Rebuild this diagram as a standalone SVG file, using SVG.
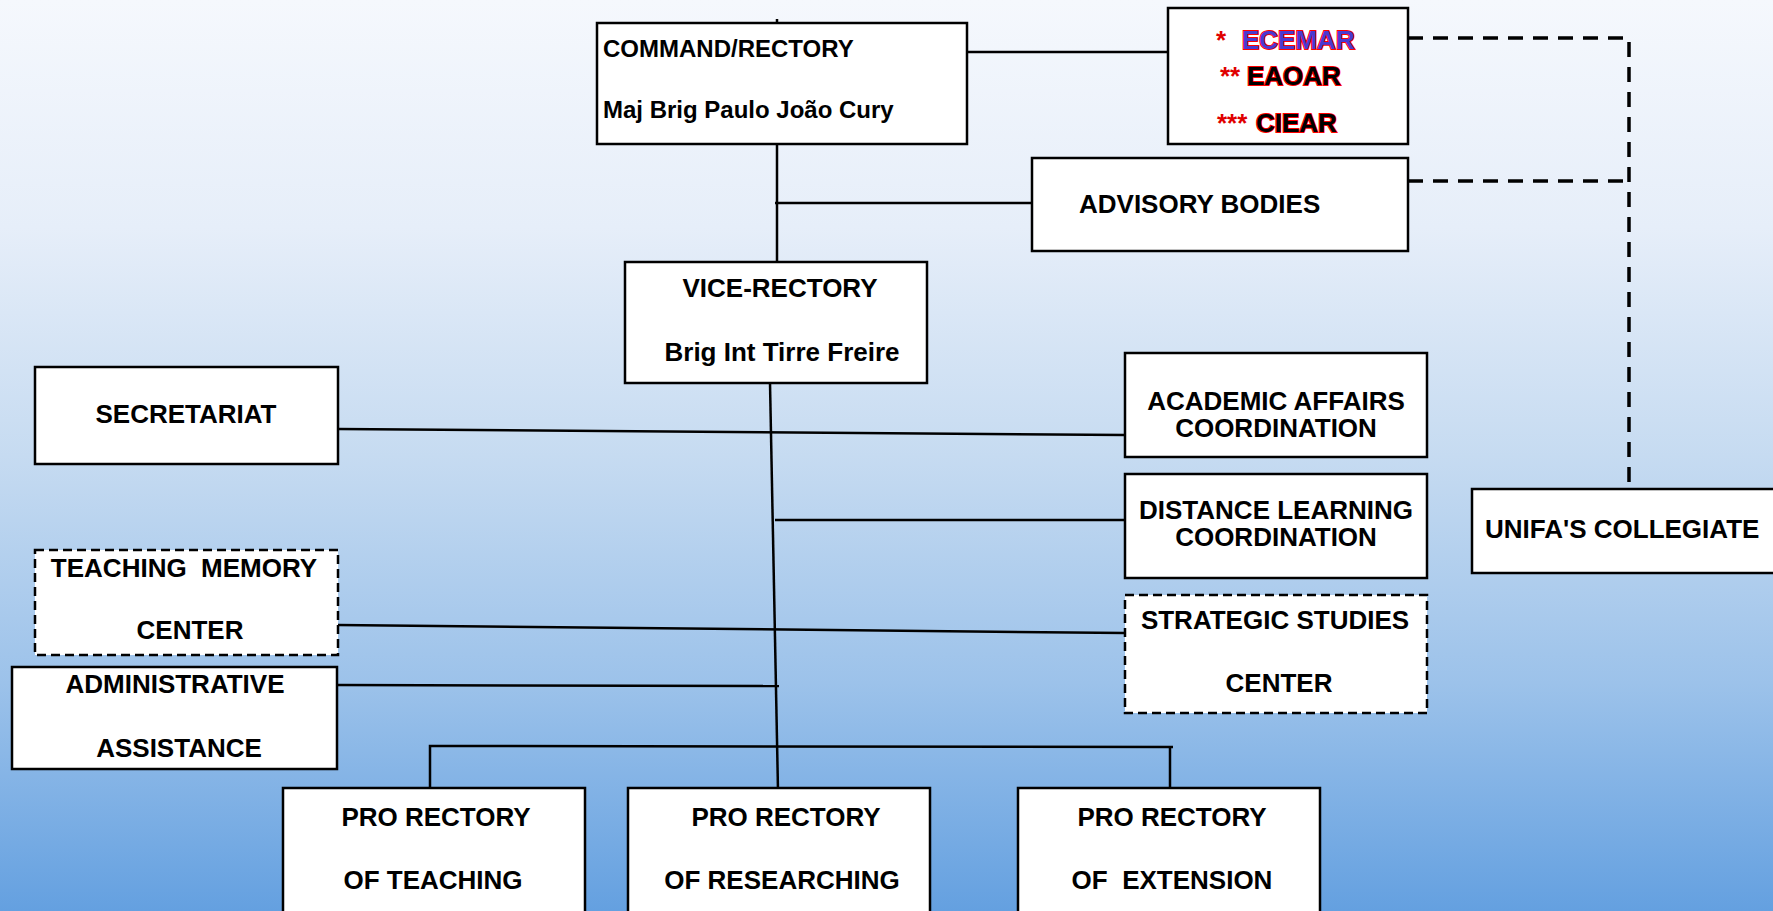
<svg xmlns="http://www.w3.org/2000/svg" width="1773" height="911" viewBox="0 0 1773 911">
<defs>
<linearGradient id="bg" x1="0" y1="0" x2="0" y2="1">
<stop offset="0" stop-color="#f5f8fd"/>
<stop offset="0.25" stop-color="#e6eef9"/>
<stop offset="0.5" stop-color="#c6dbf1"/>
<stop offset="0.75" stop-color="#9cc2ea"/>
<stop offset="1" stop-color="#64a0e0"/>
</linearGradient>
</defs>
<style>
.box{fill:#fff;stroke:#000;stroke-width:2.5}
.dbox{fill:#fff;stroke:#000;stroke-width:2.5;stroke-dasharray:9 5}
.ln{stroke:#000;stroke-width:2.5;fill:none}
.dl{stroke:#000;stroke-width:3.5;fill:none;stroke-dasharray:15 10}
text{font-family:"Liberation Sans",Arial,sans-serif;font-weight:bold;font-size:26px;fill:#000}
.c{text-anchor:middle}
.s24{font-size:24px}
.red{fill:#e00000}
.oe{fill:#4a3ad0;stroke:#ff0000;stroke-width:2;paint-order:stroke}
.ob{fill:#000;stroke:#ff0000;stroke-width:2;paint-order:stroke}
</style>
<rect width="1773" height="911" fill="url(#bg)"/>
<g id="connectors">
<line class="ln" x1="777" y1="19" x2="777" y2="23"/>
<line class="ln" x1="777" y1="144" x2="777" y2="262"/>
<line class="ln" x1="967" y1="52" x2="1168" y2="52"/>
<line class="ln" x1="775" y1="203" x2="1032" y2="203"/>
<line class="ln" x1="770" y1="383" x2="778" y2="791"/>
<line class="ln" x1="338" y1="429" x2="1125" y2="435"/>
<line class="ln" x1="775" y1="520" x2="1125" y2="520"/>
<line class="ln" x1="338" y1="625" x2="1125" y2="633"/>
<line class="ln" x1="337" y1="685" x2="779" y2="686"/>
<polyline class="ln" points="430,788 430,746 1173,747"/>
<line class="ln" x1="1170" y1="747" x2="1170" y2="788"/>
<polyline class="dl" points="1408,38 1629,38 1629,489"/>
<line class="dl" x1="1408" y1="181" x2="1629" y2="181"/>
</g>
<g id="command">
<rect class="box" x="597" y="23" width="370" height="121"/>
<text x="603" y="57" class="s24">COMMAND/RECTORY</text>
<text x="603" y="118" class="s24">Maj Brig Paulo João Cury</text>
</g>
<g id="schools">
<rect class="box" x="1168" y="8" width="240" height="136"/>
<text x="1216" y="49"><tspan class="red">*</tspan><tspan class="oe" x="1242">ECEMAR</tspan></text>
<text x="1220" y="85"><tspan class="red">**</tspan><tspan class="ob" x="1247">EAOAR</tspan></text>
<text x="1217" y="132"><tspan class="red">***</tspan><tspan class="ob" x="1256">CIEAR</tspan></text>
</g>
<g id="advisory">
<rect class="box" x="1032" y="158" width="376" height="93"/>
<text x="1079" y="213">ADVISORY BODIES</text>
</g>
<g id="vice">
<rect class="box" x="625" y="262" width="302" height="121"/>
<text x="780" y="297" class="c">VICE-RECTORY</text>
<text x="782" y="361" class="c">Brig Int Tirre Freire</text>
</g>
<g id="secretariat">
<rect class="box" x="35" y="367" width="303" height="97"/>
<text x="186" y="423" class="c">SECRETARIAT</text>
</g>
<g id="academic">
<rect class="box" x="1125" y="353" width="302" height="104"/>
<text x="1276" y="410" class="c">ACADEMIC AFFAIRS</text>
<text x="1276" y="437" class="c">COORDINATION</text>
</g>
<g id="distance">
<rect class="box" x="1125" y="474" width="302" height="104"/>
<text x="1276" y="519" class="c">DISTANCE LEARNING</text>
<text x="1276" y="546" class="c">COORDINATION</text>
</g>
<g id="strategic">
<rect class="dbox" x="1125" y="595" width="302" height="118"/>
<text x="1275" y="629" class="c">STRATEGIC STUDIES</text>
<text x="1279" y="692" class="c">CENTER</text>
</g>
<g id="memory">
<rect class="dbox" x="35" y="550" width="303" height="105"/>
<text x="184" y="577" class="c" xml:space="preserve">TEACHING  MEMORY</text>
<text x="190" y="639" class="c">CENTER</text>
</g>
<g id="admin">
<rect class="box" x="12" y="667" width="325" height="102"/>
<text x="175" y="693" class="c">ADMINISTRATIVE</text>
<text x="179" y="757" class="c">ASSISTANCE</text>
</g>
<g id="unifa">
<rect class="box" x="1472" y="489" width="310" height="84"/>
<text x="1485" y="538">UNIFA'S COLLEGIATE</text>
</g>
<g id="pro-teaching">
<rect class="box" x="283" y="788" width="302" height="130"/>
<text x="436" y="826" class="c">PRO RECTORY</text>
<text x="433" y="889" class="c">OF TEACHING</text>
</g>
<g id="pro-researching">
<rect class="box" x="628" y="788" width="302" height="130"/>
<text x="786" y="826" class="c">PRO RECTORY</text>
<text x="782" y="889" class="c">OF RESEARCHING</text>
</g>
<g id="pro-extension">
<rect class="box" x="1018" y="788" width="302" height="130"/>
<text x="1172" y="826" class="c">PRO RECTORY</text>
<text x="1172" y="889" class="c" xml:space="preserve">OF  EXTENSION</text>
</g>
</svg>
